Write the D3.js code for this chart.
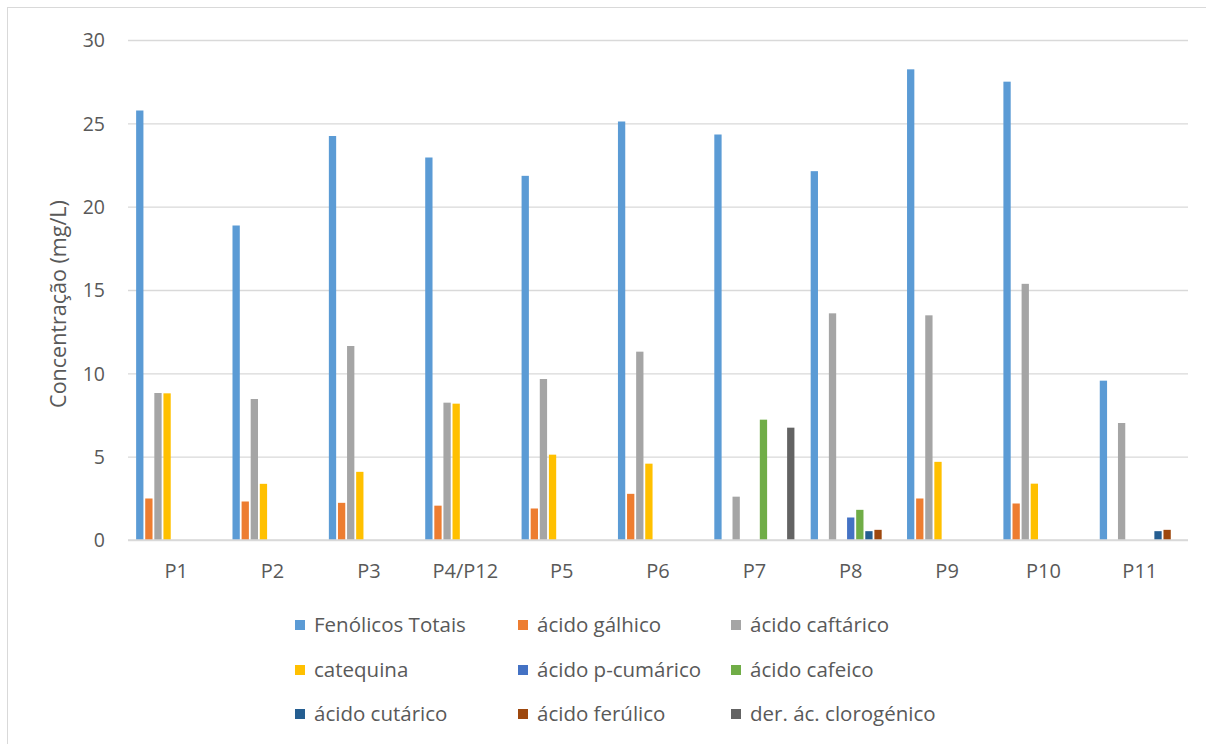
<!DOCTYPE html>
<html>
<head>
<meta charset="utf-8">
<script src="https://cdn.jsdelivr.net/npm/d3@7"></script>
<style>
  html, body { margin: 0; padding: 0; background: #fff; }
  svg { display: block; }
  text { font-family: "Open Sans", Lato, sans-serif; fill: #595959; }
</style>
</head>
<body>
<svg id="chart" width="1206" height="744"></svg>
<script>
// Sample points
const categories = ["P1", "P2", "P3", "P4/P12", "P5", "P6", "P7", "P8", "P9", "P10", "P11"];

// Series names (legend order)
const seriesNames = [
  "Fenólicos Totais", "ácido gálhico", "ácido caftárico",
  "catequina", "ácido p-cumárico", "ácido cafeico",
  "ácido cutárico", "ácido ferúlico", "der. ác. clorogénico"
];

// Concentrations (mg/L), one value per sample
const fenolicosTotais   = [25.77, 18.87, 24.24, 22.95, 21.85, 25.11, 24.33, 22.13, 28.24, 27.50, 9.56];
const acidoGalhico      = [2.49, 2.31, 2.23, 2.06, 1.89, 2.77, 0, 0, 2.49, 2.19, 0];
const acidoCaftarico    = [8.82, 8.46, 11.64, 8.24, 9.66, 11.30, 2.60, 13.60, 13.48, 15.37, 7.02];
const catequina         = [8.80, 3.37, 4.09, 8.18, 5.12, 4.58, 0, 0, 4.69, 3.38, 0];
const acidoPCumarico    = [0, 0, 0, 0, 0, 0, 0, 1.35, 0, 0, 0];
const acidoCafeico      = [0, 0, 0, 0, 0, 0, 7.22, 1.81, 0, 0, 0];
const acidoCutarico     = [0, 0, 0, 0, 0, 0, 0, 0.53, 0, 0, 0.53];
const acidoFerulico     = [0, 0, 0, 0, 0, 0, 0, 0.61, 0, 0, 0.61];
const derClorogenico    = [0, 0, 0, 0, 0, 0, 6.74, 0, 0, 0, 0];

const yTicks = [0, 5, 10, 15, 20, 25, 30];

const seriesValues = [
  fenolicosTotais, acidoGalhico, acidoCaftarico,
  catequina, acidoPCumarico, acidoCafeico,
  acidoCutarico, acidoFerulico, derClorogenico
];

const colors = ["#5B9BD5", "#ED7D31", "#A5A5A5", "#FFC000", "#4472C4",
                "#70AD47", "#255E91", "#9E480E", "#636363"];

const svg = d3.select("#chart");

// Outer chart frame
svg.append("rect")
  .attr("x", 7.5).attr("y", 7.5)
  .attr("width", 1206).attr("height", 744)
  .attr("fill", "#fff").attr("stroke", "#d9d9d9").attr("stroke-width", 1);

const plot = { left: 128, right: 1188, top: 40, bottom: 540 };

const x0 = d3.scaleBand()
  .domain(categories)
  .range([plot.left, plot.right])
  .paddingInner(0.15)
  .paddingOuter(0.075);

const x1 = d3.scaleBand()
  .domain(d3.range(seriesNames.length))
  .range([0, x0.bandwidth()]);

const y = d3.scaleLinear().domain([0, 30]).range([plot.bottom, plot.top]);

// Horizontal gridlines and value labels
const yAxis = d3.axisLeft(y).tickValues(yTicks).tickSize(-(plot.right - plot.left)).tickPadding(23);
const gy = svg.append("g")
  .attr("transform", `translate(${plot.left},0)`)
  .call(yAxis);
gy.select(".domain").remove();
gy.selectAll(".tick line").attr("stroke", "#d9d9d9").attr("stroke-width", 1.3);
gy.selectAll(".tick text")
  .style("font-size", "19.5px")
  .style("font-family", "'Open Sans', sans-serif")
  .style("fill", "#595959")
  .attr("dy", "0.35em");

// Bars
const rows = [];
categories.forEach((c, i) => {
  seriesValues.forEach((vals, s) => {
    if (vals[i] > 0) rows.push({ cat: c, s, v: vals[i] });
  });
});

const gap = 0.9;
svg.append("g").selectAll("rect")
  .data(rows)
  .join("rect")
  .attr("x", d => x0(d.cat) + x1(d.s) + gap)
  .attr("width", x1.bandwidth() - 2 * gap)
  .attr("y", d => y(d.v))
  .attr("height", d => y(0) - y(d.v))
  .attr("fill", d => colors[d.s]);

// Category axis
const xAxis = d3.axisBottom(x0).tickSize(0).tickPadding(24);
const gx = svg.append("g")
  .attr("transform", `translate(0,${plot.bottom})`)
  .call(xAxis);
gx.select(".domain").attr("stroke", "#d9d9d9").attr("stroke-width", 1.3)
  .attr("d", `M${plot.left},0H${plot.right}`);
gx.selectAll(".tick text")
  .style("font-size", "20px")
  .style("font-family", "'Open Sans', sans-serif")
  .style("fill", "#595959");

// Value axis title
svg.append("text")
  .attr("transform", `translate(66,${(plot.top + plot.bottom) / 2 + 14}) rotate(-90)`)
  .attr("text-anchor", "middle")
  .style("font-size", "21.5px")
  .text("Concentração (mg/L)");

// Legend: three columns, three rows
const legendCols = [295, 518, 731];
const legendRows = [625, 670, 714];
const lg = svg.append("g").selectAll("g")
  .data(seriesNames)
  .join("g")
  .attr("transform", (d, i) => `translate(${legendCols[i % 3]},${legendRows[Math.floor(i / 3)]})`);
lg.append("rect")
  .attr("x", 0).attr("y", -5)
  .attr("width", 10).attr("height", 10)
  .attr("fill", (d, i) => colors[i]);
lg.append("text")
  .attr("x", 19).attr("dy", "0.35em")
  .style("font-size", "20.5px")
  .text(d => d);
</script>
</body>
</html>
